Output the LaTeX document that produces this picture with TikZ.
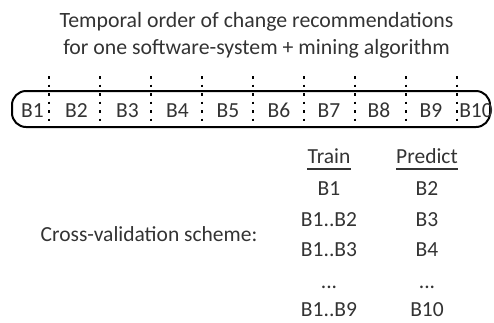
\documentclass[tikz,border=0pt]{standalone}
\usepackage{fontspec}
\setmainfont{Carlito}
\definecolor{txt}{HTML}{333333}
\begin{document}
\begin{tikzpicture}[x=1pt,y=-1pt,
  lbl/.style={text=txt,font=\fontsize{21.5}{25}\selectfont,inner sep=0pt,anchor=base},
  ttl/.style={text=txt,font=\fontsize{21.8}{25}\selectfont,inner sep=0pt,anchor=base},
  divider/.style={line width=2pt,dash pattern=on 2.5pt off 6pt},
  boxline/.style={line width=2pt,rounded corners=14pt}]
\useasboundingbox (0,0) rectangle (494,322);
\node[ttl] (t1) at (256.5,27) {Temporal order of change recommendations};
\node[ttl] (t2) at (256.5,54) {for one software-system + mining algorithm};
\node[draw,boxline,minimum width=478pt,minimum height=36pt,inner sep=0pt] (box) at (251,109) {};
\foreach \i/\x in {1/49.3,2/100.2,3/151.1,4/202,5/252.9,6/303.8,7/354.7,8/405.6,9/456.5}{
  \coordinate (d\i top) at (\x,76);
  \coordinate (d\i bot) at (\x,124);
  \draw[divider] (d\i top) -- (d\i bot);
}
\foreach \i/\x in {1/32.5,2/76.5,3/127.5,4/177.5,5/228,6/279,7/329,8/379,9/431,10/476}{
  \node[lbl] (b\i) at (\x,117) {B\i};
}
\node[lbl] (cv) at (149,241) {Cross-validation scheme:};
\node[lbl] (train) at (329,163) {Train};
\node[lbl] (pred) at (427,163) {Predict};
\draw[line width=2pt,txt] (train.south west) ++(0,5.5) coordinate (tu1) -- (tu1 -| train.south east);
\draw[line width=2pt,txt] (pred.south west) ++(0,5.5) coordinate (pu1) -- (pu1 -| pred.south east);
\node[lbl] (r1a) at (329,195) {B1};
\node[lbl] (r1b) at (427,195) {B2};
\node[lbl] (r2a) at (329,226) {B1..B2};
\node[lbl] (r2b) at (427,226) {B3};
\node[lbl] (r3a) at (329,256) {B1..B3};
\node[lbl] (r3b) at (427,256) {B4};
\node[lbl] (r4a) at (329,288) {...};
\node[lbl] (r4b) at (427,288) {...};
\node[lbl] (r5a) at (329,316) {B1..B9};
\node[lbl] (r5b) at (427,316) {B10};
\end{tikzpicture}
\end{document}
